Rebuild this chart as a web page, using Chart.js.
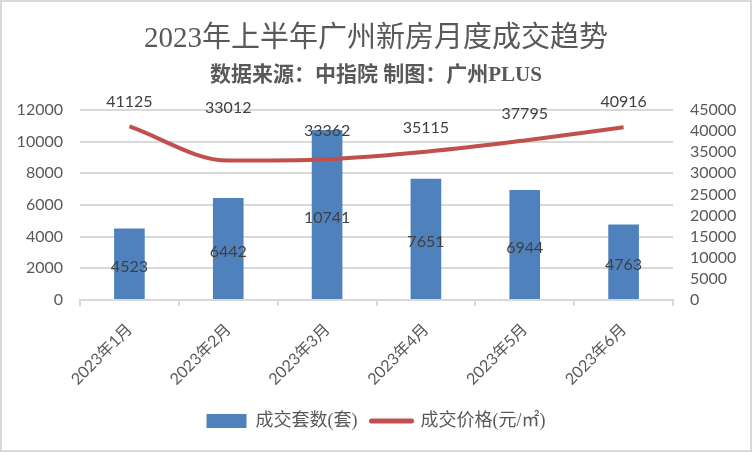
<!DOCTYPE html>
<html>
<head>
<meta charset="utf-8">
<script src="https://cdn.jsdelivr.net/npm/chart.js@4/dist/chart.umd.min.js"></script>
<style>
  html, body { margin: 0; padding: 0; background: #fff; }
  #wrap { width: 752px; height: 452px; }
</style>
</head>
<body>
<div id="wrap"><canvas id="chart" width="752" height="452"></canvas></div>
<script>
// data
var months = ["2023年1月", "2023年2月", "2023年3月", "2023年4月", "2023年5月", "2023年6月"];
var deals = [4523, 6442, 10741, 7651, 6944, 4763];
var prices = [41125, 33012, 33362, 35115, 37795, 40916];
var leftTicks = [0, 2000, 4000, 6000, 8000, 10000, 12000];
var rightTicks = [0, 5000, 10000, 15000, 20000, 25000, 30000, 35000, 40000, 45000];

var BLUE = "#4f81bd";
var RED = "#c0504d";
var GREY = "#595959";
var SANS = "Lato, 'Noto Sans CJK SC', sans-serif";
var SERIF = "'Liberation Serif', 'Noto Sans CJK SC', serif";

// chart frame + value labels
var frame = {
    id: 'frame',
    beforeDraw: function(chart) {
        var ctx = chart.ctx;
        ctx.save();
        ctx.fillStyle = '#fff';
        ctx.fillRect(0, 0, chart.width, chart.height);
        ctx.strokeStyle = '#d9d9d9';
        ctx.lineWidth = 2;
        ctx.strokeRect(1, 1, chart.width - 2, chart.height - 2);
        ctx.restore();
    }
};

var valueLabels = {
    id: 'valueLabels',
    afterDatasetsDraw: function(chart, args, opts) {
        var ctx = chart.ctx;
        ctx.save();
        ctx.font = "16px " + SANS;
        ctx.fillStyle = "#404040";
        ctx.textAlign = 'center';
        ctx.textBaseline = 'middle';
        chart.getDatasetMeta(0).data.forEach(function(bar, i) {
            var mid = (bar.y + bar.base) / 2;
            ctx.fillText(deals[i], bar.x, mid + 3);
        });
        chart.getDatasetMeta(1).data.forEach(function(pt, i) {
            ctx.fillText(prices[i], pt.x, pt.y - opts.lift[i]);
        });
        ctx.restore();
    }
};

function plain(v) { return String(v); }

new Chart(document.getElementById('chart'), {
    data: {
        labels: months,
        datasets: [
            {
                type: 'bar',
                label: '成交套数(套)',
                data: deals,
                backgroundColor: BLUE,
                yAxisID: 'y',
                barPercentage: 0.31,
                categoryPercentage: 1,
                order: 2
            },
            {
                type: 'line',
                label: '成交价格(元/㎡)',
                data: prices,
                borderColor: RED,
                backgroundColor: RED,
                borderWidth: 4,
                pointRadius: 0,
                cubicInterpolationMode: 'monotone',
                yAxisID: 'y1',
                order: 1
            }
        ]
    },
    options: {
        responsive: false,
        animation: false,
        layout: { padding: { left: 0, right: 0, top: 0, bottom: 12 } },
        scales: {
            x: {
                offset: true,
                grid: {
                    offset: true,
                    drawOnChartArea: false,
                    color: '#d9d9d9',
                    tickLength: 6,
                    lineWidth: 2
                },
                border: { color: '#d9d9d9', width: 2 },
                ticks: {
                    minRotation: 45,
                    maxRotation: 45,
                    color: GREY,
                    font: { family: SANS, size: 16 },
                    padding: 14
                },
                afterFit: function(scale) { scale.height = 98; }
            },
            y: {
                position: 'left',
                min: 0,
                max: 12000,
                afterBuildTicks: function(scale) {
                    scale.ticks = leftTicks.map(function(v) { return { value: v }; });
                },
                grid: { color: '#d9d9d9', lineWidth: 2, drawTicks: false },
                border: { display: false },
                ticks: {
                    color: GREY,
                    padding: 17,
                    autoSkip: false,
                    callback: plain,
                    font: { family: SANS, size: 16 }
                },
                afterFit: function(scale) { scale.width = 80; }
            },
            y1: {
                position: 'right',
                min: 0,
                max: 45000,
                afterBuildTicks: function(scale) {
                    scale.ticks = rightTicks.map(function(v) { return { value: v }; });
                },
                grid: { display: false, drawTicks: false },
                border: { display: false },
                ticks: {
                    color: GREY,
                    padding: 17,
                    autoSkip: false,
                    callback: plain,
                    font: { family: SANS, size: 16 }
                },
                afterFit: function(scale) { scale.width = 79; }
            }
        },
        plugins: {
            title: {
                display: true,
                text: '2023年上半年广州新房月度成交趋势',
                color: GREY,
                font: { family: SERIF, size: 29, weight: 'normal' },
                padding: { top: 22, bottom: 4 }
            },
            subtitle: {
                display: true,
                text: '数据来源：中指院 制图：广州PLUS',
                color: GREY,
                font: { family: SERIF, size: 21, weight: 'bold' },
                padding: { top: 2, bottom: 22 }
            },
            legend: {
                position: 'bottom',
                labels: {
                    usePointStyle: true,
                    pointStyleWidth: 40,
                    boxHeight: 14,
                    padding: 14,
                    color: GREY,
                    font: { family: SERIF, size: 18 },
                    generateLabels: function(chart) {
                        return [
                            { text: '成交套数(套)', pointStyle: 'rect', fillStyle: BLUE, strokeStyle: BLUE, lineWidth: 0, fontColor: GREY, datasetIndex: 0 },
                            { text: '成交价格(元/㎡)', pointStyle: 'line', fillStyle: RED, strokeStyle: RED, lineWidth: 5, lineCap: 'round', fontColor: GREY, datasetIndex: 1 }
                        ];
                    }
                }
            },
            tooltip: { enabled: false },
            valueLabels: { lift: [25, 53, 28, 24, 27, 25] }
        }
    },
    plugins: [frame, valueLabels]
});
</script>
</body>
</html>
